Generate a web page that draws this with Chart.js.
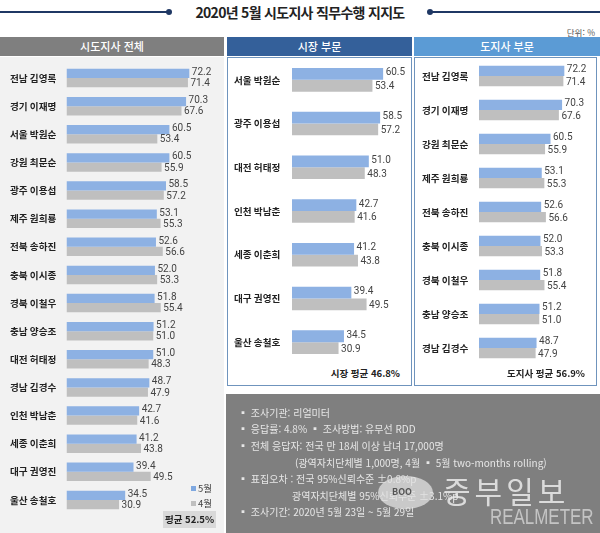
<!DOCTYPE html>
<html lang="ko">
<head>
<meta charset="utf-8">
<script src="https://cdn.jsdelivr.net/npm/chart.js@4/dist/chart.umd.min.js"></script>
<style>
html, body { margin: 0; padding: 0; background: #fff; }
body { position: relative; width: 600px; height: 533px; overflow: hidden; font-family: "Noto Sans CJK KR", sans-serif; color: #333; }
.abs { position: absolute; }
.rule { height: 2px; background: #1f3864; top: 11px; }
.dot { width: 6px; height: 6px; border-radius: 50%; background: #1f3864; top: 9px; }
.title { left: 0; width: 600px; top: 1px; text-align: center; font-size: 14px; font-weight: 700; letter-spacing: -0.7px; color: #222; line-height: 22px; }
.unit { right: 5px; top: 26px; font-size: 8.5px; color: #555; line-height: 12px; }
.head { top: 37px; height: 19px; line-height: 19px; text-align: center; color: #fff; font-size: 11px; font-weight: 500; }
.panel { top: 57px; height: 329px; box-sizing: border-box; border: 1px solid #6f94bd; background: #fff; }
.avg { font-size: 9.5px; font-weight: 700; color: #222; line-height: 14px; }
.note { left: 238px; color: #e6e6e6; font-size: 10px; line-height: 14px; white-space: nowrap; }
canvas { position: absolute; }
</style>
</head>
<body>
<div class="abs rule" style="left:0;width:168px"></div>
<div class="abs dot" style="left:166px"></div>
<div class="abs title">2020년 5월 시도지사 직무수행 지지도</div>
<div class="abs dot" style="left:427px"></div>
<div class="abs rule" style="left:430px;width:170px"></div>
<div class="abs unit">단위: %</div>

<div class="abs head" style="left:0;width:224px;background:#7f7f7f">시도지사 전체</div>
<div class="abs head" style="left:227px;width:185px;background:#34609a">시장 부문</div>
<div class="abs head" style="left:414px;width:186px;background:#5b9bd5">도지사 부문</div>

<div class="abs" style="left:0;top:57px;width:224px;height:476px;background:#f2f2f2"></div>
<div class="abs panel" style="left:227px;width:185px"></div>
<div class="abs panel" style="left:414px;width:183px"></div>

<canvas id="allChart" width="224" height="450" style="left:0;top:64px"></canvas>
<canvas id="mayorChart" width="183" height="306" style="left:228px;top:58px"></canvas>
<canvas id="governorChart" width="181" height="306" style="left:415px;top:59px"></canvas>

<div class="abs" style="left:191px;top:486px;width:5px;height:5px;background:#7fa8e0"></div>
<div class="abs" style="left:198px;top:481px;font-size:9.5px;line-height:14px;color:#444">5월</div>
<div class="abs" style="left:191px;top:501px;width:5px;height:5px;background:#bfbfbf"></div>
<div class="abs" style="left:198px;top:496px;font-size:9.5px;line-height:14px;color:#444">4월</div>
<div class="abs avg" style="left:163px;top:511px;width:53px;height:17px;line-height:17px;text-align:center;background:#d9d9d9">평균 52.5%</div>
<div class="abs avg" style="right:200px;top:366px">시장 평균 46.8%</div>
<div class="abs avg" style="right:15px;top:366px">도지사 평균 56.9%</div>

<div class="abs" style="left:226px;top:394px;width:374px;height:139px;background:#7f7f7f"></div>
<div class="abs note" style="top:406px">▪ 조사기관: 리얼미터</div>
<div class="abs note" style="top:422px">▪ 응답률: 4.8% ▪ 조사방법: 유무선 RDD</div>
<div class="abs note" style="top:439px">▪ 전체 응답자: 전국 만 18세 이상 남녀 17,000명</div>
<div class="abs note" style="top:456px;left:295px">(광역자치단체별 1,000명, 4월 ▪ 5월 two-months rolling)</div>
<div class="abs note" style="top:472px">▪ 표집오차 : 전국 95%신뢰수준 ±0.8%p</div>
<div class="abs note" style="top:489px;left:292px">광역자치단체별 95%신뢰수준 ±3.1%p</div>
<div class="abs note" style="top:505px">▪ 조사기간: 2020년 5월 23일 ~ 5월 29일</div>

<div class="abs" style="left:378px;top:476px;width:55px;height:33px;border-radius:50%;background:rgba(225,225,225,.75)"></div>
<div class="abs" style="left:392px;top:486px;font-size:9px;font-weight:700;line-height:12px;color:#555">BOO</div>
<div class="abs" style="left:443px;top:472px;font-size:30px;line-height:36px;letter-spacing:4px;color:rgba(235,235,235,.85);white-space:nowrap">중부일보</div>
<div class="abs" style="left:490px;top:503px;font-size:22px;line-height:28px;transform:scaleX(.77);transform-origin:left;font-family:'Liberation Sans';color:rgba(225,225,225,.7);white-space:nowrap">REALMETER</div>

<script>
const allNames = ['전남 김영록', '경기 이재명', '서울 박원순', '강원 최문순', '광주 이용섭', '제주 원희룡', '전북 송하진', '충북 이시종', '경북 이철우', '충남 양승조', '대전 허태정', '경남 김경수', '인천 박남춘', '세종 이춘희', '대구 권영진', '울산 송철호'];
const allMay = [72.2, 70.3, 60.5, 60.5, 58.5, 53.1, 52.6, 52.0, 51.8, 51.2, 51.0, 48.7, 42.7, 41.2, 39.4, 34.5];
const allApr = [71.4, 67.6, 53.4, 55.9, 57.2, 55.3, 56.6, 53.3, 55.4, 51.0, 48.3, 47.9, 41.6, 43.8, 49.5, 30.9];

const mayorNames = ['서울 박원순', '광주 이용섭', '대전 허태정', '인천 박남춘', '세종 이춘희', '대구 권영진', '울산 송철호'];
const mayorMay = [60.5, 58.5, 51.0, 42.7, 41.2, 39.4, 34.5];
const mayorApr = [53.4, 57.2, 48.3, 41.6, 43.8, 49.5, 30.9];

const governorNames = ['전남 김영록', '경기 이재명', '강원 최문순', '제주 원희룡', '전북 송하진', '충북 이시종', '경북 이철우', '충남 양승조', '경남 김경수'];
const governorMay = [72.2, 70.3, 60.5, 53.1, 52.6, 52.0, 51.8, 51.2, 48.7];
const governorApr = [71.4, 67.6, 55.9, 55.3, 56.6, 53.3, 55.4, 51.0, 47.9];

const fontFamily = '"Noto Sans CJK KR", sans-serif';

// value printed just past the end of each bar, pulled apart a little so the two lines don't touch
const barValues = {
    id: 'barValues',
    afterDatasetsDraw(chart) {
        const ctx = chart.ctx;
        ctx.save();
        ctx.fillStyle = '#444';
        ctx.font = '10px "Roboto", sans-serif';
        ctx.textAlign = 'left';
        ctx.textBaseline = 'middle';
        chart.data.datasets.forEach((ds, i) => {
            chart.getDatasetMeta(i).data.forEach((bar, j) => {
                ctx.fillText(ds.data[j].toFixed(1), bar.x + 2.5, bar.y + (i === 0 ? -1 : 1));
            });
        });
        ctx.restore();
    }
};

function makeChart(id, names, may, apr, opts) {
    return new Chart(document.getElementById(id), {
        type: 'bar',
        data: {
            labels: names,
            datasets: [
                { label: '5월', data: may, backgroundColor: '#8db1e3' },
                { label: '4월', data: apr, backgroundColor: '#bfbfbf' }
            ]
        },
        options: {
            indexAxis: 'y',
            responsive: false,
            animation: false,
            layout: { padding: { left: opts.left } },
            categoryPercentage: opts.fill,
            barPercentage: 1,
            plugins: { legend: { display: false }, tooltip: { enabled: false } },
            scales: {
                x: { display: false, min: 0, max: opts.max },
                y: {
                    grid: { display: false, drawTicks: false },
                    border: { display: false },
                    // keep the rows filling the whole canvas height
                    afterFit(scale) {
                        scale.width = opts.axis;
                        scale.paddingTop = 0;
                        scale.paddingBottom = 0;
                    },
                    ticks: {
                        crossAlign: 'far',
                        autoSkip: false,
                        color: '#222',
                        font: { family: fontFamily, size: 9.6, weight: '700' }
                    }
                }
            }
        },
        plugins: [barValues]
    });
}

makeChart('allChart', allNames, allMay, allApr, { left: 10, axis: 56.5, fill: 0.66, max: 92.6 });
makeChart('mayorChart', mayorNames, mayorMay, mayorApr, { left: 6, axis: 58, fill: 0.54, max: 79 });
makeChart('governorChart', governorNames, governorMay, governorApr, { left: 7, axis: 57, fill: 0.6, max: 99 });
</script>
</body>
</html>
